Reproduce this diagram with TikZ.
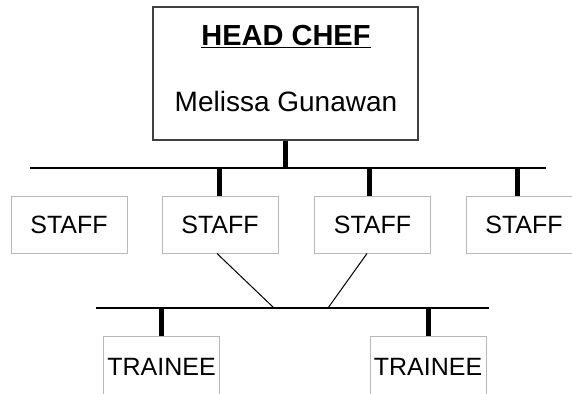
\documentclass[tikz,border=0pt]{standalone}
\usepackage{fontspec}
\setmainfont{Liberation Sans}
\usetikzlibrary{positioning}

\tikzset{
  chefbox/.style={draw=black!75, line width=1.4pt, minimum width=265pt, minimum height=133pt, inner sep=0pt},
  rolebox/.style={draw=black!28, line width=1pt, minimum width=116pt, minimum height=57pt, inner sep=0pt,
    font=\fontsize{25}{30}\selectfont},
  bus/.style={line width=1.5pt},
  bar/.style={line width=5pt},
  tie/.style={line width=1pt},
}

\begin{document}
\begin{tikzpicture}[x=1pt,y=-1pt]
  \useasboundingbox (0,0) rectangle (572,393);
  \node[chefbox] (chef) at (285.5,73.5) {};
  \node[font=\fontsize{29}{34}\selectfont\bfseries] (title) at (286,37) {\underline{HEAD CHEF}};
  \node[font=\fontsize{28}{33}\selectfont] (name) at (286,101) {Melissa Gunawan};
  \node[rolebox] (staffA) at (69,224.5) {STAFF};
  \node[rolebox] (staffB) at (220,224.5) {STAFF};
  \node[rolebox] (staffC) at (372.5,224.5) {STAFF};
  \node[rolebox] (staffD) at (524,224.5) {STAFF};
  \node[rolebox, minimum height=62pt] (traineeA) at (161.5,367) {TRAINEE};
  \node[rolebox, minimum height=62pt] (traineeB) at (428,367) {TRAINEE};
  \coordinate (topL) at (30,168);
  \coordinate (topR) at (546,168);
  \coordinate (lowL) at (96,308);
  \coordinate (lowR) at (489,308);
  \coordinate (joinA) at (274,308);
  \coordinate (joinB) at (328,308);
  \draw[bus] (topL) -- (topR);
  \draw[bus] (lowL) -- (lowR);
  \draw[bar] (chef.south) -- (chef.south |- topL);
  \draw[bar] ([xshift=-1pt]staffB.north) -- ([xshift=-1pt]staffB.north |- topL);
  \draw[bar] ([xshift=-3.5pt]staffC.north) -- ([xshift=-3.5pt]staffC.north |- topL);
  \draw[bar] ([xshift=-7pt]staffD.north) -- ([xshift=-7pt]staffD.north |- topL);
  \draw[tie] ([xshift=-3pt]staffB.south) -- (joinA);
  \draw[tie] ([xshift=-5.5pt]staffC.south) -- (joinB);
  \draw[bar] (traineeA.north) -- (traineeA.north |- lowL);
  \draw[bar] (traineeB.north) -- (traineeB.north |- lowL);
\end{tikzpicture}
\end{document}
